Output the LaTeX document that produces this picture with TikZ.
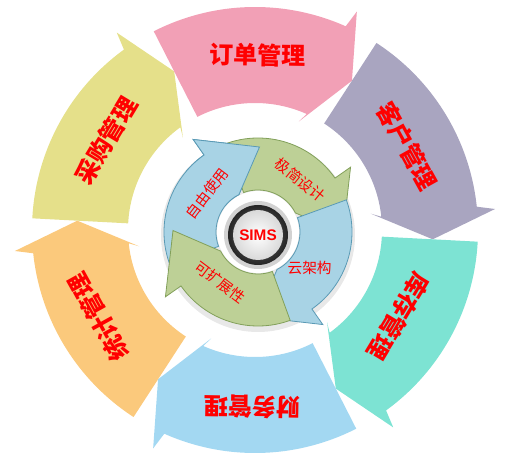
\documentclass[tikz,border=0pt]{standalone}
\usepackage{fontspec}
\setmainfont{Liberation Sans}
\newfontfamily\cjk{Noto Sans CJK SC}
\usepackage{tikz}

\definecolor{segyellow}{HTML}{E5E08A}
\definecolor{segpink}{HTML}{F2A0B6}
\definecolor{segpurple}{HTML}{A9A5C0}
\definecolor{segteal}{HTML}{7DE3D3}
\definecolor{segblue}{HTML}{A3D8F2}
\definecolor{segorange}{HTML}{FBC97C}
\definecolor{wheelblue}{HTML}{A8D3E5}
\definecolor{wheelblueline}{HTML}{5A9AB5}
\definecolor{wheelgreen}{HTML}{BDD096}
\definecolor{wheelgreenline}{HTML}{82A05A}

\tikzset{
outerlabel/.style={text=red, inner sep=0pt, font=\cjk\bfseries\fontsize{18}{18}\selectfont},
innerlabel/.style={text=red, inner sep=0pt, font=\cjk\fontsize{11}{12}\selectfont}}

% outer segment: #1 tail angle, #2 colour
\newcommand{\outerseg}[2]{%
  \fill[#2] (#1:223) arc[start angle=#1, end angle=#1-51, radius=223]
    -- ({#1-52}:241) -- ({#1-60}:178) -- ({#1-49}:117)
    -- ({#1-51}:127) arc[start angle=#1-51, end angle=#1, radius=127] -- cycle;}
% inner segment: #1 head angle, #2 fill, #3 border
\newcommand{\innerseg}[3]{%
  \filldraw[fill=#2, draw=#3, line width=0.6pt] ({#1+75}:94) arc[start angle=#1+75, end angle=#1, radius=94]
    -- (#1:113) -- ({#1-36}:85) -- ({#1-8}:42)
    arc[start angle=#1-8, end angle=#1+75, radius=42] -- cycle;}

\begin{document}
\begin{tikzpicture}[x=0.75pt, y=0.75pt]
    \useasboundingbox (-255,-230) rectangle (252,230);

    \outerseg{177}{segyellow}
    \outerseg{117}{segpink}
    \outerseg{57}{segpurple}
    \outerseg{-3}{segteal}
    \outerseg{-63}{segblue}
    \outerseg{-123}{segorange}

    \node[outerlabel, rotate=59] (purchase) at (149:174) {采购管理};
    \node[outerlabel, rotate=-1] (order) at (89:175) {订单管理};
    \node[outerlabel, rotate=-61] (client) at (29:174) {客户管理};
    \node[outerlabel, rotate=-121] (stock) at (-31:168) {库存管理};
    \node[outerlabel, rotate=-181] (finance) at (-91:177) {财务管理};
    \node[outerlabel, rotate=119] (stats) at (-151:179) {统计管理};

    \begin{scope}[shift={(3,-2)}]
        \fill[gray!18] (0,-3) circle (97);
        \fill[white] (0,0) circle (41);
        \innerseg{125}{wheelblue}{wheelblueline}
        \innerseg{35}{wheelgreen}{wheelgreenline}
        \innerseg{-55}{wheelblue}{wheelblueline}
        \innerseg{-145}{wheelgreen}{wheelgreenline}
        \begin{scope}
            \clip (0,0) -- (140:130) arc[start angle=140, end angle=80, radius=130] -- cycle;
            \innerseg{125}{wheelblue}{wheelblueline}
        \end{scope}

        \node[innerlabel, rotate=53] (free) at (143:64) {自由使用};
        \node[innerlabel, rotate=-39] (simple) at (51:67) {极简设计};
        \node[innerlabel] (cloud) at (-35:63) {云架构};
        \node[innerlabel, rotate=-37] (scale) at (-127:63) {可扩展性};

        \fill[gray!35] (0,-3) circle (34);
        \shade[inner color=black!55, outer color=black!85] (0,-3) circle (30);
        \shade[inner color=white, outer color=gray!30] (0,-3) circle (25);
        \node[text=red, font=\bfseries\fontsize{11.5}{12}\selectfont] (sims) at (0,-3) {SIMS};
    \end{scope}

\end{tikzpicture}
\end{document}
